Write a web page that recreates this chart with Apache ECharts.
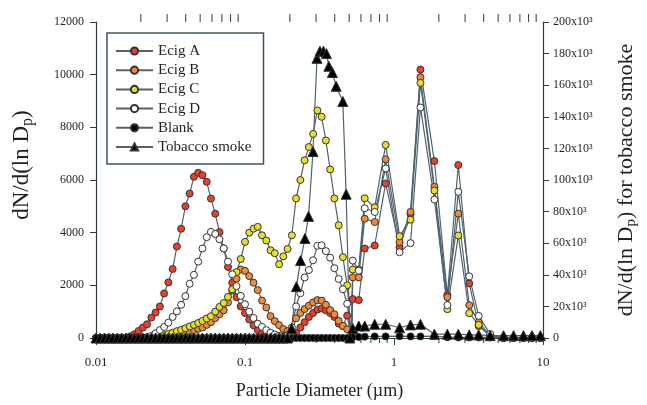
<!DOCTYPE html>
<html><head><meta charset="utf-8">
<script src="https://cdn.jsdelivr.net/npm/echarts@6/dist/echarts.min.js"></script>
<style>html,body{margin:0;padding:0;background:#fff}#c{width:647px;height:405px}</style>
</head><body><div id="c"></div>
<script>
// SMPS size bins (µm) used by the e-cig and blank series
const smpsD = [0.01,0.01068,0.01141,0.01218,0.01301,0.0139,0.01484,0.01585,0.01693,0.01808,
  0.01931,0.02062,0.02202,0.02352,0.02512,0.02683,0.02865,0.0306,0.03268,0.0349,
  0.03728,0.03981,0.04252,0.04541,0.0485,0.05179,0.05532,0.05908,0.0631,0.06739,
  0.07197,0.07686,0.08209,0.08767,0.09363,0.1,0.1068,0.1141,0.1218,0.1301,
  0.139,0.1484,0.1585,0.1693,0.1808,0.1931,0.2062,0.2202,0.2352,0.2512,
  0.2683,0.2865,0.306,0.3268,0.349,0.3728,0.3981,0.4252,0.4541,0.485,0.5179];
// APS size bins (µm)
const apsD = [0.529,0.58,0.636,0.742,0.879,1.09,1.291,1.505,1.867,2.281,2.701,3.199,3.702,4.419,5.439,6.343,7.398,8.43,9.6];

const ecigA_smps = [0,0,0,0,0,0,0,20,60,140,267,395,522,776,967,1196,1693,2112,2622,3474,
  4149,5002,5485,6122,6274,6185,5930,5294,4722,4022,3400,2700,2100,1550,1200,950,700,480,300,180,
  100,50,20,10,0,0,50,200,400,600,800,950,1080,1120,1050,950,800,550,450,850,0];
const ecigA_aps = [1477,1440,3398,3513,5868,3448,4700,10194,6720,1630,6567,2073,458,80,0,0,0,0,0];

const ecigB_smps = [0,0,0,0,0,0,0,0,0,0,0,0,10,20,30,40,50,60,80,100,
  150,200,250,300,350,400,500,600,750,900,1050,1350,1800,2250,2600,2550,2350,2100,1820,1420,
  1160,830,640,490,340,260,210,750,950,1100,1230,1350,1440,1420,1260,1060,900,650,460,330,0];
const ecigB_aps = [2302,2302,4531,4403,6785,3640,4785,9900,5740,1550,4723,1248,600,100,0,0,0,0,0];

const ecigC_smps = [0,0,0,0,0,0,0,0,0,0,0,0,20,40,60,80,100,150,200,260,
  310,370,440,500,570,650,740,830,1000,1180,1330,1560,1850,2500,3000,3650,4000,4150,4220,3900,
  3700,3330,3220,2800,3100,3380,3900,5300,6000,6750,7250,7750,8640,8400,7500,6400,5300,4280,3070,2000,0];
const ecigC_aps = [2600,2600,5307,4963,7330,3868,4492,9686,5600,1095,3894,942,500,80,0,0,0,0,0];

const ecigD_smps = [0,0,0,0,0,0,0,0,0,0,0,0,30,80,180,300,420,580,800,1010,
  1260,1590,2060,2400,2900,3400,3830,4030,3950,3750,3400,2900,2420,1970,1600,1280,1000,760,540,420,
  300,200,130,80,50,100,400,1200,1700,2300,2580,2950,3500,3520,3300,3050,2650,2240,1850,1300,0];
const ecigD_aps = [2940,2558,4925,4785,6440,3258,3602,8755,5257,1248,5548,2340,840,150,0,0,0,0,0];

const blank_smps = [0,0,0,0,0,0,0,0,0,0,0,0,0,0,0,0,0,0,0,0,
  0,0,0,0,0,0,0,0,0,0,0,0,0,0,0,0,0,0,0,0,
  0,0,0,0,0,0,0,0,0,0,0,0,0,0,0,0,0,0,0,0,0];
const blank_aps = [30,40,50,60,60,70,60,60,70,30,20,20,20,20,20,20,20,20,20];

// Tobacco smoke (right axis)
const tobaccoD = [0.01,0.01068,0.01141,0.01218,0.01301,0.0139,0.01484,0.01585,0.01693,0.01808,
  0.01931,0.02062,0.02202,0.02352,0.02512,0.02683,0.02865,0.0306,0.03268,0.0349,
  0.03728,0.03981,0.04252,0.04541,0.0485,0.05179,0.05532,0.05908,0.0631,0.06739,
  0.07197,0.07686,0.08209,0.08767,0.09363,0.1,0.1068,0.1141,0.1218,0.1301,
  0.139,0.1484,0.1585,0.1693,0.1808,0.1931,
  0.2054,0.2212,0.2359,0.2525,0.2668,0.286,0.3041,0.3184,0.336,0.3519,0.3657,0.386,0.4091,0.4535,0.4772,0.5052,
  0.529,0.58,0.636,0.742,0.879,1.09,1.291,1.505,1.867,2.281,2.701,3.199,3.702,4.419,5.439,6.343,7.398,8.43,9.6];
const tobaccoV = [0,0,0,0,0,0,0,0,0,0,0,0,0,0,0,0,0,0,0,0,
  0,0,0,0,0,0,0,0,0,0,0,0,0,0,0,0,0,0,0,0,0,0,0,0,0,0,
  6000,32500,49000,63000,77000,118000,177000,181500,181500,180000,172000,168000,159300,149700,91000,0,
  6000,7600,7600,8700,8700,6500,8300,8700,2400,2400,2400,2000,2000,1500,1500,1500,1500,1500,1500];

const minorTicks = [0.02,0.03,0.04,0.05,0.06,0.07,0.08,0.09,0.2,0.3,0.4,0.5,0.6,0.7,0.8,0.9,2,3,4,5,6,7,8,9];

function pairs(d1, v1, d2, v2) {
  const out = d1.map((d, i) => [d, v1[i]]);
  if (d2) d2.forEach((d, i) => out.push([d, v2[i]]));
  return out;
}

const FONT = 'Liberation Serif';
const LINE = '#4f636d';
const AX = '#2c3c45';
const TXT = '#1c2226';

function mk(name, data, fill, symbol, size, yIdx) {
  return {
    name, type: 'line', data, xAxisIndex: 0, yAxisIndex: yIdx || 0,
    symbol: symbol, symbolSize: size, showAllSymbol: true,
    lineStyle: { color: LINE, width: 1.2 },
    itemStyle: { color: fill, borderColor: '#333', borderWidth: 1 },
    emphasis: { disabled: true }, animation: false
  };
}

const chart = echarts.init(document.getElementById('c'), null, { renderer: 'canvas' });
chart.setOption({
  backgroundColor: '#fff',
  animation: false,
  grid: { left: 96, right: 101, top: 22, bottom: 67, containLabel: false },
  legend: {
    data: ['Ecig A','Ecig B','Ecig C','Ecig D','Blank','Tobacco smoke'],
    orient: 'vertical', left: 107, top: 33,
    padding: [10, 12, 9, 8], itemGap: 3.2, itemWidth: 37, itemHeight: 9,
    backgroundColor: '#fff', borderColor: '#3d5562', borderWidth: 1.5,
    textStyle: { fontFamily: FONT, fontSize: 15, color: TXT, lineHeight: 16 }
  },
  xAxis: [{
    type: 'log', logBase: 10, min: 0.01, max: 10, position: 'bottom',
    name: 'Particle Diameter (µm)', nameLocation: 'middle', nameGap: 44,
    nameTextStyle: { fontFamily: FONT, fontSize: 18, color: TXT },
    axisLine: { show: true, lineStyle: { color: AX, width: 1.2 } },
    axisTick: { show: true, inside: false, length: 7, lineStyle: { color: AX } },
    axisLabel: { fontFamily: FONT, fontSize: 13, color: TXT, margin: 18,
      formatter: v => String(Number(v.toPrecision(3))) },
    splitLine: { show: false }
  }, {
    type: 'log', logBase: 10, min: 0.01, max: 10, position: 'top',
    axisLine: { show: true, lineStyle: { color: AX, width: 1.2 } },
    axisTick: { show: false }, axisLabel: { show: false }, splitLine: { show: false }
  }],
  yAxis: [{
    type: 'value', min: 0, max: 12000, interval: 2000, position: 'left',
    name: 'dN/d(ln D{s|p})', nameLocation: 'middle', nameGap: 60, nameRotate: 90,
    nameTextStyle: { fontFamily: FONT, fontSize: 23, color: TXT, padding: [0, 0, 0, 30],
      rich: { s: { fontFamily: FONT, fontSize: 16, color: TXT, padding: [12, 0, 0, 0] } } },
    axisLine: { show: true, lineStyle: { color: AX, width: 1.2 } },
    axisTick: { show: true, inside: false, length: 6, lineStyle: { color: AX } },
    axisLabel: { fontFamily: FONT, fontSize: 12, color: TXT, margin: 12, formatter: v => String(v) },
    splitLine: { show: false }
  }, {
    type: 'value', min: 0, max: 200000, interval: 20000, position: 'right',
    name: 'dN/d(ln D{s|p}) for tobacco smoke', nameLocation: 'middle', nameGap: 70, nameRotate: 90,
    nameTextStyle: { fontFamily: FONT, fontSize: 22, color: TXT,
      rich: { s: { fontFamily: FONT, fontSize: 15, color: TXT, padding: [11, 0, 0, 0] } } },
    axisLine: { show: true, lineStyle: { color: AX, width: 1.2 } },
    axisTick: { show: true, inside: false, length: 6, lineStyle: { color: AX } },
    axisLabel: { fontFamily: FONT, fontSize: 12, color: TXT, margin: 10,
      formatter: v => v === 0 ? '0' : (v / 1000) + 'x10³' },
    splitLine: { show: false }
  }],
  series: [
    {
      type: 'custom', name: 'minorTicks', xAxisIndex: 0, yAxisIndex: 0, silent: true, clip: false,
      data: minorTicks.map(d => [d, 0]),
      renderItem: function (params, api) {
        const p = api.coord([api.value(0), 0]);
        const cs = params.coordSys;
        const top = cs.y, bot = cs.y + cs.height;
        return { type: 'group', children: [
          { type: 'line', shape: { x1: p[0], y1: bot, x2: p[0], y2: bot + 5 }, style: { stroke: AX, lineWidth: 1 } },
          { type: 'line', shape: { x1: p[0], y1: top, x2: p[0], y2: top - 8 }, style: { stroke: AX, lineWidth: 1 } }
        ] };
      }
    },
    mk('Ecig A', pairs(smpsD, ecigA_smps, apsD, ecigA_aps), '#e8402a', 'circle', 7),
    mk('Ecig B', pairs(smpsD, ecigB_smps, apsD, ecigB_aps), '#ee8a3c', 'circle', 7),
    mk('Ecig C', pairs(smpsD, ecigC_smps, apsD, ecigC_aps), '#e6df2a', 'circle', 7),
    mk('Ecig D', pairs(smpsD, ecigD_smps, apsD, ecigD_aps), '#ffffff', 'circle', 7),
    mk('Blank', pairs(smpsD, blank_smps, apsD, blank_aps), '#000000', 'circle', 7),
    mk('Tobacco smoke', pairs(tobaccoD, tobaccoV), '#000000', 'triangle', 10, 1)
  ]
});
</script>
</body></html>
